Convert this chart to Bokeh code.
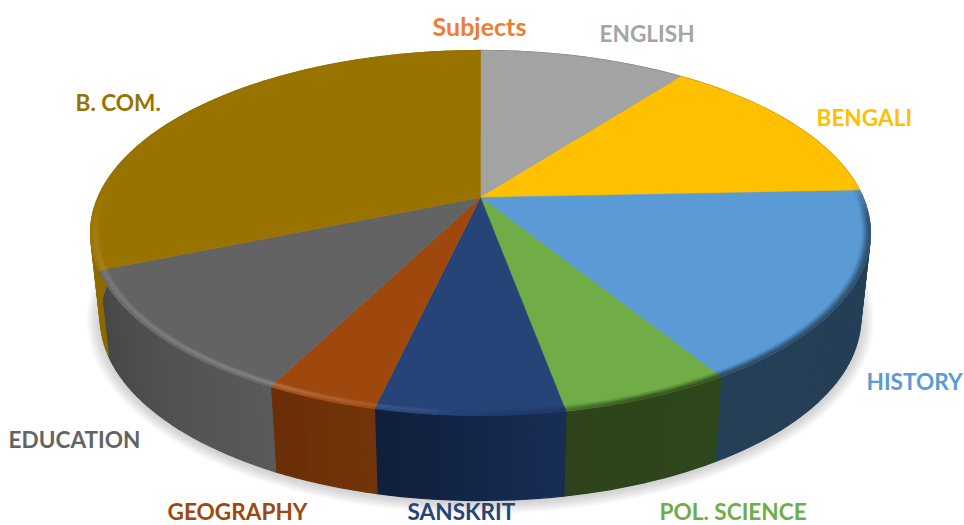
import numpy as np
from bokeh.plotting import figure
from bokeh.models import Range1d, ColumnDataSource
from bokeh.core.properties import value
from bokeh.embed import file_html
from bokeh.resources import INLINE

# ---- data (share of the pie in percent)
subjects = ["ENGLISH", "BENGALI", "HISTORY", "POL. SCIENCE", "SANSKRIT", "GEOGRAPHY", "EDUCATION", "B. COM."]
shares = [10.36, 14.0, 16.86, 5.89, 6.5, 3.89, 11.22, 31.28]
chart_title = "Subjects"

# ---- style
top_colors = ["#A3A3A3", "#FFC000", "#5B9BD5", "#70AD47", "#264478", "#9E480E", "#636363", "#997300"]
wall_from = ["#7a7a7a", "#b08500", "#253F57", "#2E471B", "#182D55", "#73340A", "#5A5A5A", "#8A6A00"]
wall_to = ["#7a7a7a", "#b08500", "#253F57", "#2E431B", "#101F3A", "#6A2F08", "#474747", "#8F6F00"]
label_xy = {"ENGLISH": (599, 33), "BENGALI": (816, 117), "HISTORY": (866, 381),
            "POL. SCIENCE": (659, 511), "SANSKRIT": (407, 511), "GEOGRAPHY": (167, 511),
            "EDUCATION": (8, 439), "B. COM.": (75, 102)}
FONT = "Lato"
FS = "22.6px"
W, H = 964, 525

# projective view of the disc
CX, CY, A, B, K = 480.0, 197.0, 175.6, 382.5, 0.1945
DEPTH, SHRINK = 85.0, 0.975


def project(theta_deg, r=1.0):
    t = np.radians(theta_deg)
    X, Y = r * np.sin(t), -r * np.cos(t)
    d = 1 - K * Y
    return CX + B * X / d, CY + A * Y / d


def lower(x, y):
    return CX + (x - CX) * SHRINK, y + DEPTH


def hex2rgb(h):
    return np.array([int(h[i:i + 2], 16) for i in (1, 3, 5)], float)


def rgb2hex(c):
    c = np.clip(np.round(c), 0, 255).astype(int)
    return "#%02x%02x%02x" % tuple(c)


def mix(a, b, f):
    return a * (1 - f) + b * f


p = figure(width=W, height=H, x_range=Range1d(0, W), y_range=Range1d(H, 0),
           output_backend="svg", toolbar_location=None, min_border=0)
p.axis.visible = False
p.grid.visible = False
p.outline_line_color = None
p.background_fill_color = "#ffffff"

edges = np.concatenate([[0], np.cumsum(shares)]) / np.sum(shares) * 360.0

# soft shadow under the disc
ring = np.linspace(0, 360, 241)
rx, ry = lower(*project(ring))
mx, my = rx.mean(), (ry.max() + ry.min()) / 2
for i in range(12, 0, -1):
    f = 1 + i * 0.003
    p.patch(mx + (rx - mx) * f, my + (ry - my) * (1 + i * 0.0055) + 1.5,
            fill_color="#707070", fill_alpha=0.03, line_color=None)

# side wall
xs, ys, cs = [], [], []
for i in range(len(subjects)):
    n = max(3, int((edges[i + 1] - edges[i]) / 1.5))
    th = np.linspace(edges[i], edges[i + 1], n + 1)
    a, b = hex2rgb(wall_from[i]), hex2rgb(wall_to[i])
    for j in range(n):
        x0, y0 = project(th[j:j + 2])
        x1, y1 = lower(x0, y0)
        xs.append([x0[0], x0[1], x1[1], x1[0]])
        ys.append([y0[0], y0[1], y1[1], y1[0]])
        cs.append(rgb2hex(mix(a, b, (j + .5) / n)))
p.patches("x", "y", source=ColumnDataSource(dict(x=xs, y=ys, c=cs)), fill_color="c", line_color="c", line_width=1.3)

# flat top slices
for i in range(len(subjects)):
    th = np.linspace(edges[i], edges[i + 1], max(8, int(edges[i + 1] - edges[i]) * 2))
    x, y = project(th)
    p.patch(np.r_[CX, x], np.r_[CY, y], fill_color=top_colors[i], line_color=top_colors[i], line_width=0.5)

# bevel on the rim: light on the front left, dark on the right
kt = [0, 85, 97, 160, 174, 186, 205, 240, 256, 275, 360]
ks = [0, 0, -.5, -.55, -.3, .06, .22, .16, .1, 0, 0]
radii = np.array([.978, .982, .986, .990, .995, 1.0])
hl = [.25, .7, 1.0, .7, .3]
dk = [.1, .3, .55, .8, 1.0]
xs, ys, cs = [], [], []
for i in range(len(subjects)):
    n = max(3, int((edges[i + 1] - edges[i]) / 1.5))
    th = np.linspace(edges[i], edges[i + 1], n + 1)
    base = hex2rgb(top_colors[i])
    for j in range(n):
        s = float(np.interp((th[j] + th[j + 1]) / 2, kt, ks))
        if abs(s) < 0.01:
            continue
        for q in range(len(radii) - 1):
            x0, y0 = project(th[j:j + 2], radii[q])
            x1, y1 = project(th[j:j + 2], radii[q + 1])
            xs.append([x0[0], x0[1], x1[1], x1[0]])
            ys.append([y0[0], y0[1], y1[1], y1[0]])
            if s > 0:
                c = mix(base, np.array([255., 255., 255.]), s * hl[q])
            else:
                c = mix(base, hex2rgb(wall_from[i]), min(1, -s * 1.6 * dk[q]))
            cs.append(rgb2hex(c))
p.patches("x", "y", source=ColumnDataSource(dict(x=xs, y=ys, c=cs)), fill_color="c", line_color="c", line_width=0.5)

# labels and heading
p.text(x=[label_xy[s][0] for s in subjects], y=[label_xy[s][1] for s in subjects], text=subjects,
       text_color=["#A5A5A5", "#FFC000", "#5B9BD5", "#70AD47", "#264478", "#9E480E", "#636363", "#997300"],
       text_font=value(FONT), text_font_size=value(FS), text_font_style="bold",
       text_align="left", text_baseline="middle")
p.text(x=[479], y=[25], text=[chart_title], text_color="#ED7D31", text_font=value(FONT),
       text_font_size=value("25px"), text_font_style="bold", text_align="center", text_baseline="middle")

open("out.html", "w").write(file_html(p, INLINE))
